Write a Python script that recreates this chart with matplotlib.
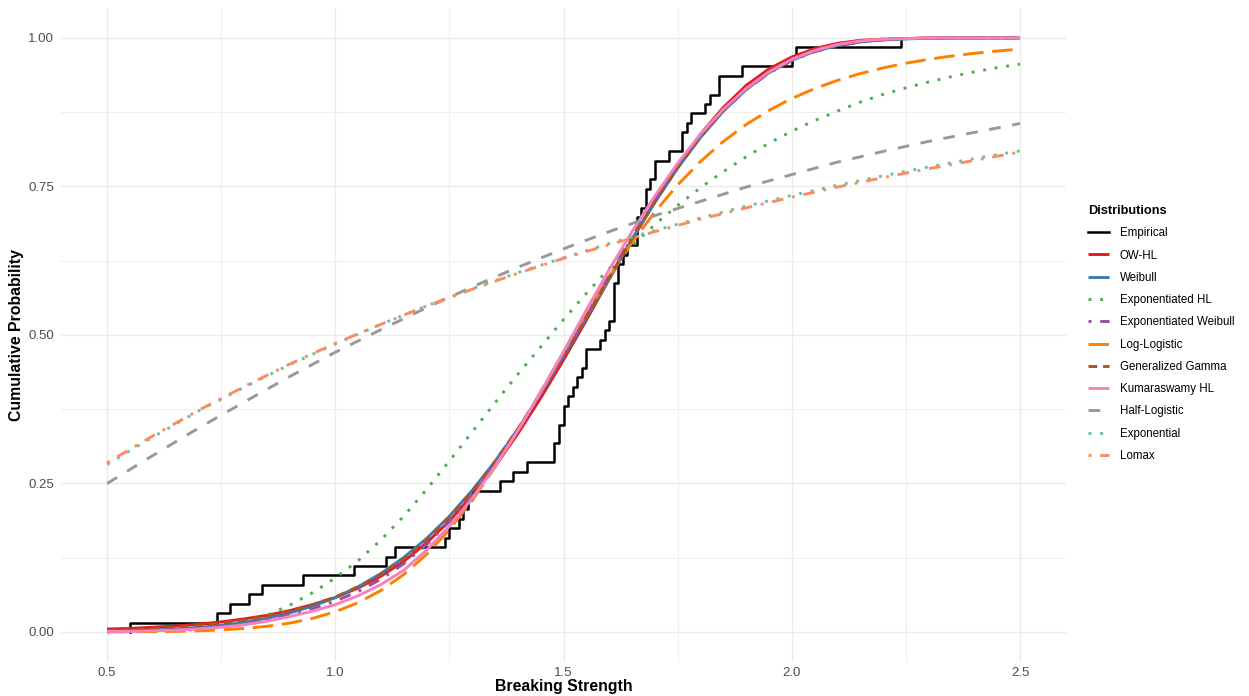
import numpy as np
import matplotlib
matplotlib.use("Agg")
import matplotlib.pyplot as plt

# Breaking strength of glass fibres (63 observations)
strength = [0.55, 0.74, 0.77, 0.81, 0.84, 0.93, 1.04, 1.11, 1.13, 1.24, 1.25, 1.27,
            1.28, 1.29, 1.30, 1.36, 1.39, 1.42, 1.48, 1.48, 1.49, 1.49, 1.50, 1.50,
            1.51, 1.52, 1.53, 1.54, 1.55, 1.55, 1.58, 1.59, 1.60, 1.61, 1.61, 1.61,
            1.61, 1.62, 1.62, 1.63, 1.64, 1.66, 1.66, 1.66, 1.67, 1.68, 1.68, 1.69,
            1.70, 1.70, 1.73, 1.76, 1.76, 1.77, 1.78, 1.81, 1.82, 1.84, 1.84, 1.89,
            2.00, 2.01, 2.24]

# fitted CDFs on a fine grid (0.5 .. 2.5 by 0.05)
x_fine = [0.50, 0.55, 0.60, 0.65, 0.70, 0.75, 0.80, 0.85, 0.90, 0.95,
          1.00, 1.05, 1.10, 1.15, 1.20, 1.25, 1.30, 1.35, 1.40, 1.45,
          1.50, 1.55, 1.60, 1.65, 1.70, 1.75, 1.80, 1.85, 1.90, 1.95,
          2.00, 2.05, 2.10, 2.15, 2.20, 2.25, 2.30, 2.35, 2.40, 2.45, 2.50]

cdf_owhl = [0.005, 0.006, 0.008, 0.010, 0.013, 0.017, 0.022, 0.028, 0.036, 0.046,
            0.058, 0.074, 0.094, 0.119, 0.150, 0.187, 0.230, 0.279, 0.334, 0.394,
            0.458, 0.525, 0.594, 0.661, 0.725, 0.785, 0.838, 0.883, 0.920, 0.948,
            0.968, 0.982, 0.991, 0.996, 0.998, 0.999, 1.000, 1.000, 1.000, 1.000, 1.000]

cdf_weibull = [0.0011, 0.0019, 0.0031, 0.0049, 0.0076, 0.0113, 0.0163, 0.0231, 0.0320, 0.0434,
               0.0580, 0.0762, 0.0985, 0.1255, 0.1575, 0.1950, 0.2385, 0.2873, 0.3417, 0.4008,
               0.4636, 0.5289, 0.5952, 0.6606, 0.7230, 0.7808, 0.8324, 0.8767, 0.9131, 0.9414,
               0.9625, 0.9774, 0.9871, 0.9932, 0.9967, 0.9985, 0.9994, 0.9998, 0.9999, 1.0, 1.0]

cdf_exphl = [0.000, 0.0005, 0.001, 0.002, 0.004, 0.008, 0.016, 0.028, 0.045, 0.066,
             0.091, 0.120, 0.155, 0.195, 0.240, 0.288, 0.337, 0.386, 0.434, 0.480,
             0.526, 0.570, 0.612, 0.650, 0.686, 0.718, 0.748, 0.775, 0.800, 0.823,
             0.843, 0.861, 0.877, 0.892, 0.905, 0.916, 0.926, 0.935, 0.943, 0.950, 0.956]

cdf_expweib = [0.001, 0.002, 0.003, 0.004, 0.006, 0.010, 0.014, 0.021, 0.029, 0.039,
               0.052, 0.068, 0.089, 0.115, 0.147, 0.186, 0.231, 0.282, 0.339, 0.400,
               0.465, 0.532, 0.600, 0.666, 0.728, 0.785, 0.835, 0.878, 0.913, 0.941,
               0.962, 0.977, 0.987, 0.993, 0.997, 0.999, 0.9995, 1.000, 1.000, 1.000, 1.000]

cdf_loglog = [0.0001, 0.0003, 0.0006, 0.0011, 0.0020, 0.0035, 0.0059, 0.0095, 0.0150, 0.0229,
              0.0340, 0.0494, 0.0699, 0.0968, 0.1307, 0.1724, 0.2217, 0.2777, 0.3394, 0.4047,
              0.4711, 0.5364, 0.5983, 0.6557, 0.7071, 0.7526, 0.7921, 0.8257, 0.8543, 0.8781,
              0.8981, 0.9148, 0.9286, 0.9401, 0.9496, 0.9575, 0.9641, 0.9696, 0.9742, 0.9780, 0.9812]

cdf_gengamma = [0.003, 0.004, 0.006, 0.008, 0.011, 0.015, 0.020, 0.027, 0.035, 0.046,
                0.059, 0.076, 0.097, 0.123, 0.155, 0.193, 0.237, 0.287, 0.342, 0.402,
                0.465, 0.531, 0.597, 0.662, 0.724, 0.782, 0.834, 0.878, 0.915, 0.944,
                0.965, 0.980, 0.989, 0.995, 0.998, 0.999, 1.000, 1.000, 1.000, 1.000, 1.000]

cdf_kumhl = [0.001, 0.001, 0.002, 0.003, 0.005, 0.008, 0.012, 0.018, 0.026, 0.035,
             0.046, 0.061, 0.080, 0.104, 0.138, 0.178, 0.225, 0.279, 0.339, 0.404,
             0.472, 0.542, 0.610, 0.674, 0.734, 0.789, 0.838, 0.880, 0.915, 0.943,
             0.964, 0.979, 0.989, 0.995, 0.998, 0.999, 1.000, 1.000, 1.000, 1.000, 1.000]

# slowly varying CDFs on a coarser grid (0.5 .. 2.5 by 0.1)
x_coarse = [0.5, 0.6, 0.7, 0.8, 0.9, 1.0, 1.1, 1.2, 1.3, 1.4, 1.5,
            1.6, 1.7, 1.8, 1.9, 2.0, 2.1, 2.2, 2.3, 2.4, 2.5]

cdf_halflog = [0.250, 0.297, 0.343, 0.387, 0.430, 0.471, 0.509, 0.546, 0.581, 0.614, 0.645,
               0.674, 0.701, 0.725, 0.749, 0.770, 0.791, 0.809, 0.826, 0.841, 0.856]

cdf_expo = [0.282, 0.328, 0.372, 0.412, 0.450, 0.485, 0.518, 0.549, 0.578, 0.605, 0.630,
            0.654, 0.676, 0.697, 0.717, 0.735, 0.752, 0.768, 0.783, 0.797, 0.810]

cdf_lomax = [0.285, 0.330, 0.373, 0.413, 0.451, 0.486, 0.518, 0.549, 0.577, 0.604, 0.629,
             0.652, 0.674, 0.695, 0.714, 0.732, 0.749, 0.765, 0.780, 0.794, 0.808]

# name, x, y, colour, dash pattern (None = solid)
curves = [
    ("OW-HL", x_fine, cdf_owhl, "#E41A1C", None),
    ("Weibull", x_fine, cdf_weibull, "#377EB8", None),
    ("Exponentiated HL", x_fine, cdf_exphl, "#4DAF4A", (1, 3)),
    ("Exponentiated Weibull", x_fine, cdf_expweib, "#984EA3", (1, 3, 4, 3)),
    ("Log-Logistic", x_fine, cdf_loglog, "#FF7F00", (7, 3)),
    ("Generalized Gamma", x_fine, cdf_gengamma, "#A65628", (3, 2)),
    ("Kumaraswamy HL", x_fine, cdf_kumhl, "#F781BF", None),
    ("Half-Logistic", x_coarse, cdf_halflog, "#999999", (4, 4)),
    ("Exponential", x_coarse, cdf_expo, "#66C2A5", (1, 3)),
    ("Lomax", x_coarse, cdf_lomax, "#FC8D62", (1, 3, 4, 3)),
]

plt.rcParams["font.family"] = ["Liberation Sans", "DejaVu Sans"]

fig = plt.figure(figsize=(12.49, 6.96), dpi=100)
ax = fig.add_axes([0.0492, 0.0493, 0.8040, 0.9388])

# empirical CDF as a step line
xs = np.sort(np.array(strength))
ys = np.arange(1, len(xs) + 1) / len(xs)
ax.step(np.concatenate([[xs[0]], xs]), np.concatenate([[0.0], ys]), where="post",
        color="black", lw=1.8, label="Empirical", zorder=2)

for name, xv, yv, col, dash in curves:
    line, = ax.plot(xv, yv, color=col, lw=2.1, label=name, zorder=3,
                    solid_capstyle="butt", dash_capstyle="butt")
    if dash is not None:
        line.set_dashes(dash)

ax.set_xlim(0.4, 2.6)
ax.set_ylim(-0.05, 1.05)
ax.set_xticks([0.5, 1.0, 1.5, 2.0, 2.5])
ax.set_xticklabels(["0.5", "1.0", "1.5", "2.0", "2.5"])
ax.set_yticks([0.0, 0.25, 0.5, 0.75, 1.0])
ax.set_yticklabels(["0.00", "0.25", "0.50", "0.75", "1.00"])
ax.set_xticks([0.75, 1.25, 1.75, 2.25], minor=True)
ax.set_yticks([0.125, 0.375, 0.625, 0.875], minor=True)
ax.grid(True, which="major", color="#EBEBEB", lw=1.0)
ax.grid(True, which="minor", color="#EBEBEB", lw=0.6)
ax.set_axisbelow(True)
for s in ax.spines.values():
    s.set_visible(False)
ax.tick_params(which="both", length=0)
ax.tick_params(axis="x", labelsize=9.5, labelcolor="#4D4D4D", pad=3.5)
ax.tick_params(axis="y", labelsize=9.5, labelcolor="#4D4D4D", pad=5.5)

ax.set_xlabel("Breaking Strength", fontsize=11.4, fontweight="bold", labelpad=0.5)
ax.set_ylabel("Cumulative Probability", fontsize=11.4, fontweight="bold", labelpad=3)

leg = ax.legend(loc="upper left", bbox_to_anchor=(1088 / 1249, 1 - 205 / 696),
                bbox_transform=fig.transFigure, frameon=False, fontsize=8.3,
                title="Distributions", title_fontproperties={"weight": "bold", "size": 9.2},
                alignment="left", handlelength=1.85, handletextpad=0.9,
                labelspacing=0.89, borderpad=0, borderaxespad=0)

fig.savefig("out.png", dpi=100)
